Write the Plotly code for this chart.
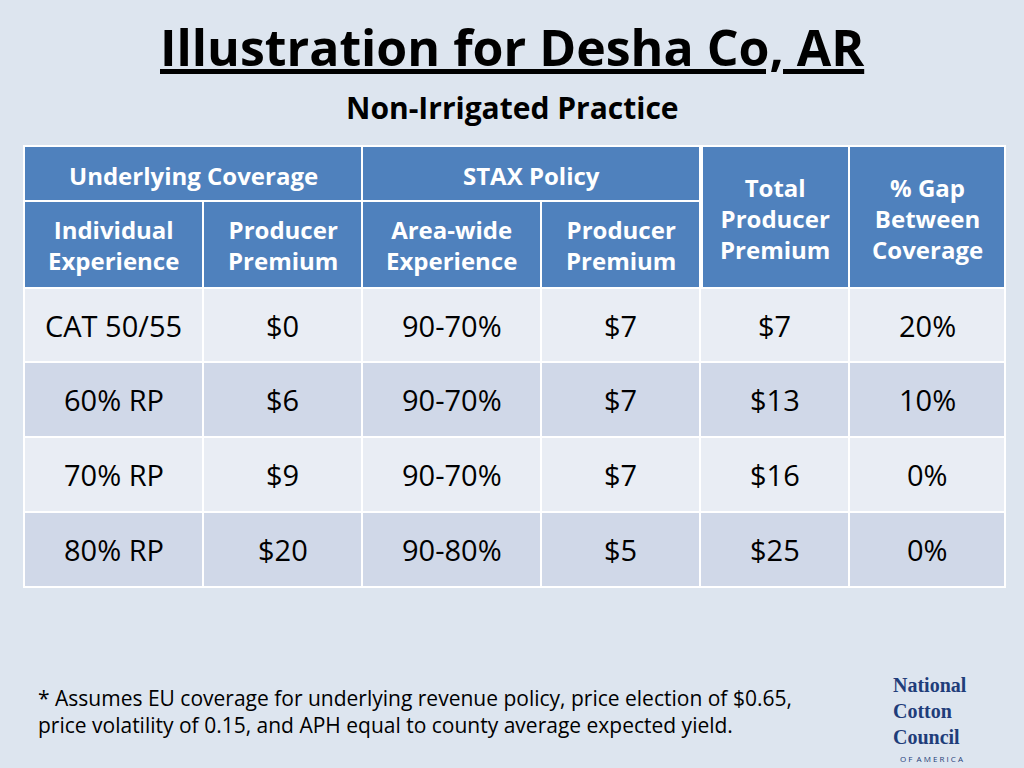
import plotly.graph_objects as go

# Table content
TITLE = 'Illustration for Desha Co, AR'
SUBTITLE = 'Non-Irrigated Practice'
GROUP_HEADERS = ['Underlying Coverage', 'STAX Policy']
SUB_HEADERS = ['Individual<br>Experience', 'Producer<br>Premium',
               'Area-wide<br>Experience', 'Producer<br>Premium']
TALL_HEADERS = ['Total<br>Producer<br>Premium', '% Gap<br>Between<br>Coverage']
coverage = ['CAT 50/55', '60% RP', '70% RP', '80% RP']
underlying_premium = ['$0', '$6', '$9', '$20']
stax_range = ['90-70%', '90-70%', '90-70%', '90-80%']
stax_premium = ['$7', '$7', '$7', '$5']
total_premium = ['$7', '$13', '$16', '$25']
gap = ['20%', '10%', '0%', '0%']
FOOTNOTE = ('* Assumes EU coverage for underlying revenue policy, price election of $0.65,<br>'
            'price volatility of 0.15, and APH equal to county average expected yield.')

HEADER_BLUE = '#4f81bd'
ROW_COLORS = ['#e9edf4', '#d0d8e8']
BG = '#dde5ef'
FONT = 'Open Sans'

col_edges = [24, 203, 362, 541, 700, 849, 1005]
row_edges = [288, 362, 437, 512, 587]

fig = go.Figure()


def cell(x0, x1, y0, y1, fill):
    fig.add_shape(type='rect', x0=x0, x1=x1, y0=y0, y1=y1, fillcolor=fill,
                  line=dict(color='white', width=2), layer='below')


def label(x, y, text, size, color='black', bold=False):
    fig.add_annotation(x=x, y=y, text=f'<b>{text}</b>' if bold else text,
                       showarrow=False, font=dict(size=size, color=color, family=FONT),
                       xanchor='center', yanchor='middle')


# Header row 1 (groups)
for i, txt in enumerate(GROUP_HEADERS):
    x0, x1 = col_edges[2 * i], col_edges[2 * i + 2]
    cell(x0, x1, 146, 201, HEADER_BLUE)
    label((x0 + x1) / 2, 175, txt, 24, 'white', True)
# Header row 2 (sub headers)
for i, txt in enumerate(SUB_HEADERS):
    x0, x1 = col_edges[i], col_edges[i + 1]
    cell(x0, x1, 201, 288, HEADER_BLUE)
    label((x0 + x1) / 2, 245, txt, 24, 'white', True)
# Tall headers
for i, txt in enumerate(TALL_HEADERS):
    x0, x1 = col_edges[4 + i], col_edges[5 + i]
    cell(x0 + 2 if i == 0 else x0, x1, 146, 288, HEADER_BLUE)
    label((x0 + x1) / 2, 218, txt, 24, 'white', True)

# Body
columns = [coverage, underlying_premium, stax_range, stax_premium, total_premium, gap]
for r in range(len(coverage)):
    y0, y1 = row_edges[r], row_edges[r + 1]
    for c, col in enumerate(columns):
        x0, x1 = col_edges[c], col_edges[c + 1]
        cell(x0, x1, y0, y1, ROW_COLORS[r % 2])
        label((x0 + x1) / 2, (y0 + y1) / 2, col[r], 29)

# Titles and footnote
label(512, 47, f'<u>{TITLE}</u>', 50, 'black', True)
label(512, 107, SUBTITLE, 30, 'black', True)
fig.add_annotation(x=36, y=711, text=FOOTNOTE, showarrow=False, align='left',
                   xanchor='left', yanchor='middle',
                   font=dict(size=21, color='black', family=FONT))
# Logo text
fig.add_annotation(x=930, y=711, text='<b>National<br>Cotton<br>Council</b>', showarrow=False,
                   align='left', font=dict(size=20, color='#1f3d7a', family='Liberation Serif'),
                   yanchor='middle')
fig.add_annotation(x=932, y=758, text='O F  A M E R I C A', showarrow=False,
                   font=dict(size=8, color='#1f3d7a', family=FONT))

fig.update_xaxes(range=[0, 1024], visible=False)
fig.update_yaxes(range=[768, 0], visible=False)
fig.update_layout(width=1024, height=768, margin=dict(l=0, r=0, t=0, b=0),
                  paper_bgcolor=BG, plot_bgcolor=BG, showlegend=False)

fig.write_html('out.html', config={'displayModeBar': False},
               post_script="document.body.style.margin='0';")
